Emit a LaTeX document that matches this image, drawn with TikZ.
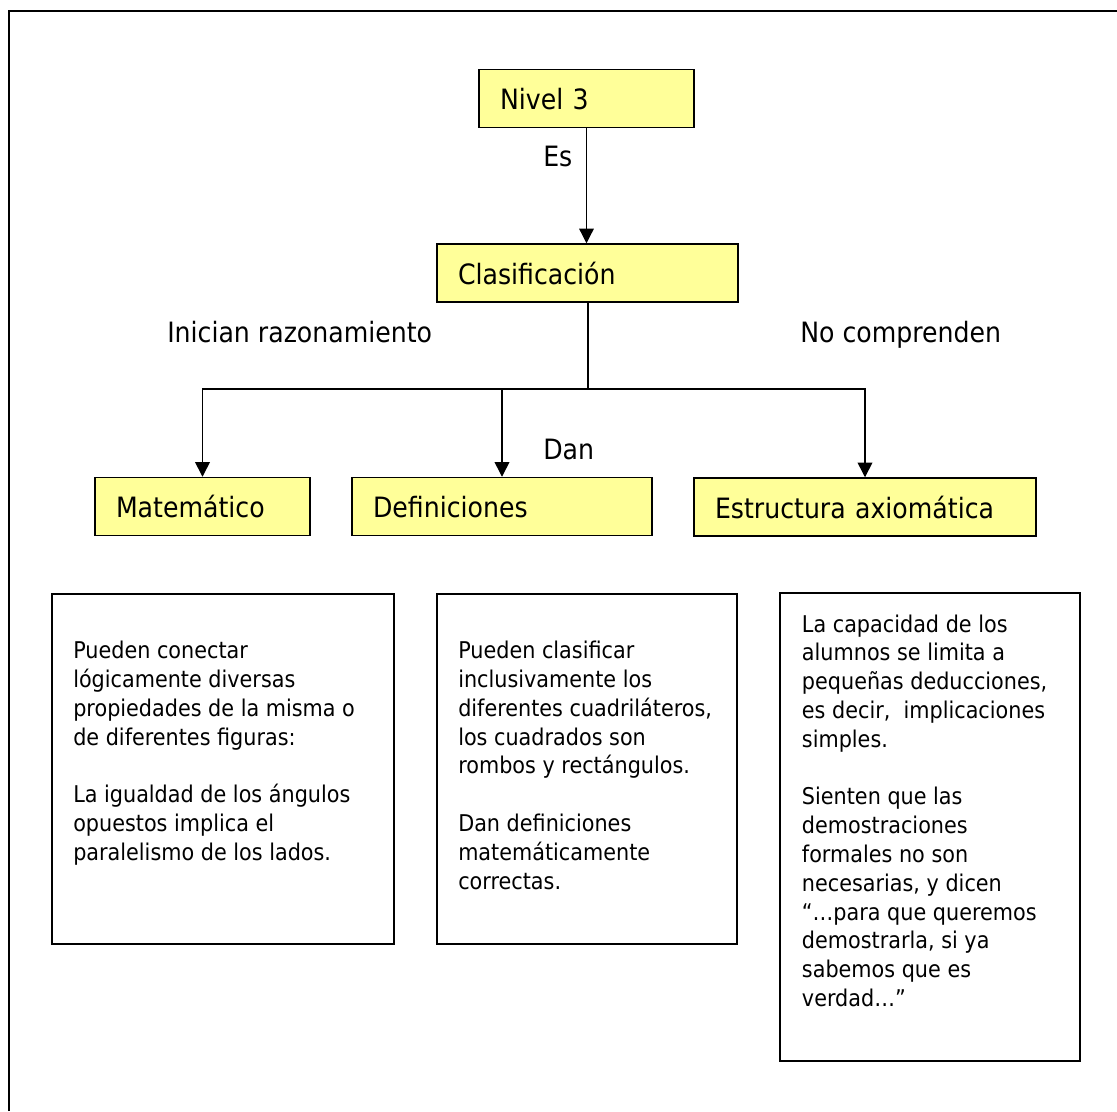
\documentclass[tikz,border=0pt]{standalone}
\usepackage{fontspec}
\setmainfont[FakeStretch=0.9]{DejaVu Sans}
\usetikzlibrary{arrows.meta}
\definecolor{amarillo}{RGB}{255,255,153}
\newcommand{\letragrande}{\fontsize{21}{25}\selectfont}
\newcommand{\letrachica}{\fontsize{17.3}{21.6}\selectfont}
\begin{document}
\begin{tikzpicture}[x=0.75pt,y=-0.75pt,
	caja/.style={draw,line width=1.1pt,fill=amarillo,inner xsep=15.75pt,minimum height=43.5pt,align=left,text height=17pt,text depth=0pt,font=\letragrande},
	marco/.style={draw,line width=1.3pt},
	texto/.style={inner sep=0pt,align=left,font=\letrachica,anchor=north west},
	rotulo/.style={inner sep=0pt,anchor=base west,font=\letragrande},
	flecha/.style={line width=1.1pt,-{Triangle[length=11pt,width=11pt]}}]
	\useasboundingbox (0,0) rectangle (1117,1111);
		\draw[line width=1.5pt] (8.5,1111)--(8.5,10.5)--(1117,10.5);
	\node[caja,text width=129.75pt] (nivel) at (586.5,98.5) {Nivel 3};
	\node[caja,text width=194.25pt] (clasif) at (587.5,273) {Clasificación};
	\node[caja,text width=129.75pt] (mat) at (202.5,506.5) {Matemático};
	\node[caja,text width=193.5pt] (defin) at (502,506.5) {Definiciones};
	\node[caja,text width=225pt] (estr) at (865,507) {Estructura axiomática};
		\coordinate (rama) at (587.5,389);
		\draw[flecha,line width=0.9pt] (nivel.south)--(nivel.south |- clasif.north);
		\draw[line width=1.5pt] (clasif.south)--(clasif.south |- rama);
		\draw[line width=1.5pt,line cap=rect] (mat.north |- rama)--(estr.north |- rama);
		\foreach \n in {mat,defin,estr}
			\draw[flecha] (\n.north |- rama)--(\n.north);
	\node[rotulo] (es) at (543,166.7) {Es};
	\node[rotulo] (inician) at (167,342) {Inician razonamiento};
	\node[rotulo] (noComp) at (800,342) {No comprenden};
	\node[rotulo] (dan) at (543,459) {Dan};
	\node[marco,minimum width=256.5pt,minimum height=262.5pt] (cajaMat) at (223,769) {};
	\node[marco,minimum width=225pt,minimum height=262.5pt] (cajaDef) at (587,769) {};
	\node[marco,minimum width=225pt,minimum height=351pt] (cajaEst) at (930,827) {};
	\node[texto] (txtMat) at (73,640.8) {Pueden conectar\\lógicamente diversas\\propiedades de la misma o\\de diferentes figuras:\\[21.6pt]La igualdad de los ángulos\\opuestos implica el\\paralelismo de los lados.};
	\node[texto] (txtDef) at (458,640.8) {Pueden clasificar\\inclusivamente los\\diferentes cuadriláteros,\\los cuadrados son\\rombos y rectángulos.\\[21.6pt]Dan definiciones\\matemáticamente\\correctas.};
	\node[texto] (txtEst) at (801.7,614.2) {La capacidad de los\\alumnos se limita a\\pequeñas deducciones,\\es decir,~ implicaciones\\simples.\\[21.6pt]Sienten que las\\demostraciones\\formales no son\\necesarias, y dicen\\“…para que queremos\\demostrarla, si ya\\sabemos que es\\verdad…”};
\end{tikzpicture}
\end{document}
